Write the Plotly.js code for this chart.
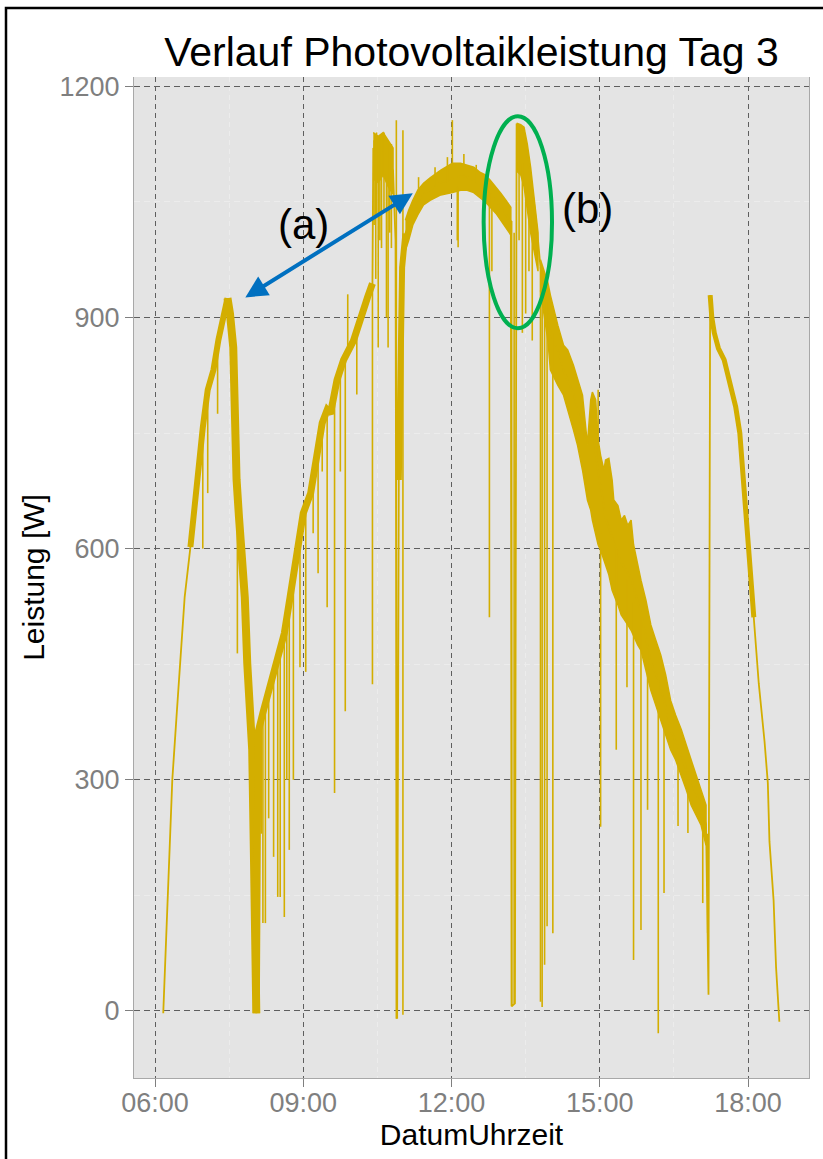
<!DOCTYPE html>
<html><head><meta charset="utf-8">
<script src="https://cdn.plot.ly/plotly-3.0.1.min.js"></script>
<style>html,body{margin:0;padding:0;background:#fff}#chart{width:823px;height:1159px}</style>
</head><body><div id="chart"></div>
<script>
const DAY = '2024-06-03 ';
const GOLD = '#d3ae00';

// main measured path (time, watt)
const lineTime = [
'06:10','06:15','06:18','06:21','06:26','06:32','06:36','06:43','06:49','06:52','06:58','07:04','07:11','07:17','07:23','07:28',
'07:31','07:35','07:37','07:39','07:42','07:46','07:49','07:52','07:54','07:58','08:00','08:02','08:03',
'08:04','08:05','08:11','08:20','08:28','08:37','08:44','08:53','09:00','09:09','09:17','09:23','09:29','09:33','09:41','09:49','10:01','10:09','10:18','10:24',
'10:25','10:31','10:37','10:43','10:49','10:52','10:54',
'10:56','10:58','11:00','11:04','11:08','11:13','11:19','11:26','11:34','11:47','12:01','12:11','12:19','12:27','12:35','12:41','12:47','12:54','13:00','13:06','13:12',
'13:13','13:17','13:19','13:24','13:28','13:32','13:36','13:40','13:45','13:48',
'13:57','14:00','14:09','14:16','14:28','14:39','14:45','14:51','14:58','15:07','15:17','15:28','15:38','15:50','16:02','16:11','16:18','16:26','16:39','16:47','16:59','17:09','17:12',
'17:14','17:16','17:19','17:24','17:31','17:39','17:45','17:50','17:55','18:01','18:07','18:13','18:20','18:24','18:26','18:31','18:34','18:38'];
const lineWatt = [
-3,140,200,300,380,470,537,602,672,706,757,806,832,871,905,925,
905,861,732,690,640,580,537,451,403,339,209,36,-3,
348,361,387,420,450,490,537,594,646,672,732,763,780,775,819,845,870,900,926,944,
1120,1110,1115,1105,1090,1000,-10,
689,905,965,1009,1020,1037,1049,1060,1066,1075,1081,1083,1082,1078,1072,1068,1060,1052,1043,1034,1025,
6,10,1150,1148,1140,1110,1080,1050,1000,965,
905,880,857,831,802,754,740,760,700,640,608,578,562,517,452,430,404,365,333,307,277,242,21,
929,900,880,860,845,806,784,750,680,600,511,425,350,296,220,144,57,-14];

// periods where the noisy signal forms a thick trace
const thickFrom  = ['06:40','07:28','08:03','10:55','17:14'];
const thickTo    = ['07:28','08:03','10:24','11:05','18:08'];
const thickWidth = [6, 8, 7, 6, 5];

// noise envelope (upper / lower) of dense parts, segments separated by null
const bandTime = [
'10:25','10:31','10:37','10:43','10:49', null,
'11:04','11:08','11:13','11:19','11:26','11:34','11:47','12:01','12:11','12:19','12:27','12:35','12:41','12:47','12:54','13:00','13:06','13:12', null,
'13:19','13:24','13:28','13:32','13:36','13:40','13:45', null,
'13:48','13:57','14:00','14:09','14:16','14:21','14:28','14:33','14:39','14:45','14:49','14:51','14:55','14:58','15:01','15:05','15:07','15:11','15:15','15:17','15:22','15:26','15:30','15:34','15:38','15:41','15:46','15:50','15:56','16:02','16:08','16:14','16:20','16:26','16:32','16:39','16:45','16:51','16:57','17:03','17:09'];
const bandHigh = [
1140,1135,1140,1130,1120, null,
1026,1039,1052,1065,1074,1081,1091,1100,1100,1098,1095,1088,1085,1078,1069,1061,1052,1043, null,
1152,1150,1147,1125,1095,1060,1010, null,
975,945,929,890,864,858,838,819,799,735,793,803,793,741,721,702,715,717,689,663,656,637,643,630,637,605,579,559,533,501,481,462,436,403,384,365,345,326,306,287,267];
const bandLow = [
1080,1075,1085,1070,1060, null,
987,1000,1020,1033,1046,1052,1059,1062,1065,1065,1062,1055,1050,1043,1035,1026,1016,1007, null,
1090,1085,1070,1040,1010,990,960, null,
935,870,832,812,799,780,754,734,702,663,650,637,618,605,598,585,579,566,546,540,527,514,507,501,494,488,475,468,442,416,397,380,358,339,326,306,287,267,254,241,215];

// short drops / peaks of single readings
const spikeTime = ['06:58','07:04','07:16','07:40','08:09','08:11','08:14','08:18','08:24','08:29','08:32','08:37','08:40','08:43','08:48','08:56','09:03','09:12','09:18','09:23','09:29','09:38','09:45','09:51','09:54','10:05','10:24',
'10:26','10:28','10:29','10:31','10:33','10:35','10:38','10:41','10:43','10:45','10:47','10:53','11:01',
'11:20','11:40','11:55','12:01','12:07','12:08','12:15','12:30','12:46','12:49',
'13:13','13:16','13:22','13:26','13:30','13:34','13:38','13:48','13:50','13:53','13:56','14:03',
'14:58','15:01','15:20','15:33','15:41','15:50','15:58','16:11','16:18','16:35','16:47','17:05','17:11'];
const spikeTop = [757,806,868,680,380,387,395,410,430,452,460,490,500,530,560,620,650,690,735,760,780,800,830,850,850,885,944,
1130,1130,1140,1130,1135,1135,1140,1130,1130,1125,1125,1156,1143,
1060,1070,1075,1081,1070,1070,1085,1075,1062,1058,
1025,1010,1150,1100,1090,1080,1040,965,960,950,920,880,
720,620,600,560,530,510,470,430,400,345,300,250,230];
const spikeBottom = [600,672,775,464,230,114,114,250,200,148,148,122,300,209,300,446,440,620,568,700,524,283,700,389,930,800,424,
1020,950,1030,861,1000,990,1040,900,861,1010,990,-10,-5,
1082,1095,1108,1156,1000,991,1112,1098,511,960,
6,10,1000,880,905,960,870,12,5,60,110,101,
806,239,339,420,66,105,261,-29,153,240,231,140,101];

const xTickVals = ['06:00','09:00','12:00','15:00','18:00'];
const xMinorVals = ['07:30','10:30','13:30','16:30'];
const yTickVals = [0,300,600,900,1200];

const T = s => s === null ? null : DAY + s + ':00';

const traces = [];
// band polygons
{
  const x = [], y = [];
  let seg = [];
  const flush = () => {
    if (!seg.length) return;
    seg.forEach(i => { x.push(T(bandTime[i])); y.push(bandHigh[i]); });
    seg.slice().reverse().forEach(i => { x.push(T(bandTime[i])); y.push(bandLow[i]); });
    x.push(null); y.push(null);
    seg = [];
  };
  bandTime.forEach((t, i) => { if (t === null) flush(); else seg.push(i); });
  flush();
  traces.push({type:'scatter', mode:'lines', x, y, fill:'toself', fillcolor:GOLD,
    line:{color:GOLD, width:1.5}, hoverinfo:'skip', showlegend:false});
}
// main thin path
traces.push({type:'scatter', mode:'lines', x:lineTime.map(T), y:lineWatt,
  line:{color:GOLD, width:1.8}, showlegend:false});
// thick parts
thickFrom.forEach((a, k) => {
  const b = thickTo[k];
  const idx = lineTime.map((t, i) => i).filter(i => lineTime[i] >= a && lineTime[i] <= b);
  traces.push({type:'scatter', mode:'lines', x:idx.map(i => T(lineTime[i])), y:idx.map(i => lineWatt[i]),
    line:{color:GOLD, width:thickWidth[k]}, showlegend:false, hoverinfo:'skip'});
});
// spikes
{
  const x = [], y = [];
  spikeTime.forEach((t, i) => { x.push(T(t), T(t), null); y.push(spikeTop[i], spikeBottom[i], null); });
  traces.push({type:'scatter', mode:'lines', x, y, line:{color:GOLD, width:1.6}, showlegend:false, hoverinfo:'skip'});
}

const fontFam = '"Liberation Sans", Arial, sans-serif';
const layout = {
  width: 823, height: 1159,
  margin: {l:134, r:14, t:77, b:81},
  paper_bgcolor: '#ffffff', plot_bgcolor: '#e4e4e4',
  font: {family: fontFam},
  title: {text:'Verlauf Photovoltaikleistung Tag 3', font:{size:41, color:'#000', family:fontFam},
    x:0.5, xref:'paper', xanchor:'center', y:1-52/1159, yref:'container', yanchor:'middle'},
  xaxis: {
    type:'date', range:[DAY+'05:34:30', DAY+'19:14:00'],
    tickvals: xTickVals.map(T), ticktext: xTickVals,
    tickfont:{size:27, color:'#7f7f7f'}, ticklabelstandoff:-7,
    ticks:'outside', ticklen:8, tickcolor:'#7f7f7f', tickwidth:1,
    showgrid:true, gridcolor:'#5e5e5e', gridwidth:1, griddash:'5px,4px',
    minor:{tickvals:xMinorVals.map(T), showgrid:true, gridcolor:'#ececec', gridwidth:1, ticks:''},
    showline:true, linecolor:'#a8a8a8', linewidth:1, mirror:false, zeroline:false,
    title:{text:'DatumUhrzeit', font:{size:30, color:'#000'}, standoff:0},
    fixedrange:true
  },
  yaxis: {
    range:[-87, 1212], tickvals:yTickVals, ticktext:yTickVals.map(String),
    tickfont:{size:27, color:'#7f7f7f'},
    ticks:'outside', ticklen:8, tickcolor:'#7f7f7f', tickwidth:1,
    showgrid:true, gridcolor:'#5e5e5e', gridwidth:1, griddash:'6px,4px',
    minor:{dtick:150, showgrid:true, gridcolor:'#ececec', gridwidth:1, ticks:''},
    showline:true, linecolor:'#a8a8a8', linewidth:1, mirror:true, zeroline:false,
    title:{text:'Leistung [W]', font:{size:30, color:'#000'}, standoff:6},
    fixedrange:true
  },
  shapes: [
    {type:'rect', xref:'paper', yref:'paper', x0:(6-134)/675, x1:(1000-134)/675, y0:(1078-1200)/1001, y1:(1078-8)/1001,
     line:{color:'#000', width:2.5}, fillcolor:'rgba(0,0,0,0)', layer:'above'},
    {type:'circle', xref:'x', yref:'y', x0:T('12:39'), x1:T('14:02'), y0:886, y1:1161,
     line:{color:'#00b050', width:4}, layer:'above'}
  ],
  annotations: [
    {x:T('11:13'), y:1061, xref:'x', yref:'y', ax:-169, ay:105, text:'', showarrow:true,
     arrowcolor:'#0070c0', arrowwidth:4, arrowhead:2, arrowsize:1.1, arrowside:'end+start',
     startarrowhead:2, startarrowsize:1.1, standoff:0, startstandoff:0},
    {x:T('09:00'), y:1021, xref:'x', yref:'y', text:'(a)', showarrow:false,
     font:{size:42, color:'#000', family:fontFam}, xanchor:'center', yanchor:'middle'},
    {x:T('14:45'), y:1042, xref:'x', yref:'y', text:'(b)', showarrow:false,
     font:{size:42, color:'#000', family:fontFam}, xanchor:'center', yanchor:'middle'}
  ],
  showlegend:false
};

Plotly.newPlot('chart', traces, layout, {displayModeBar:false, staticPlot:true});
</script>
</body></html>
